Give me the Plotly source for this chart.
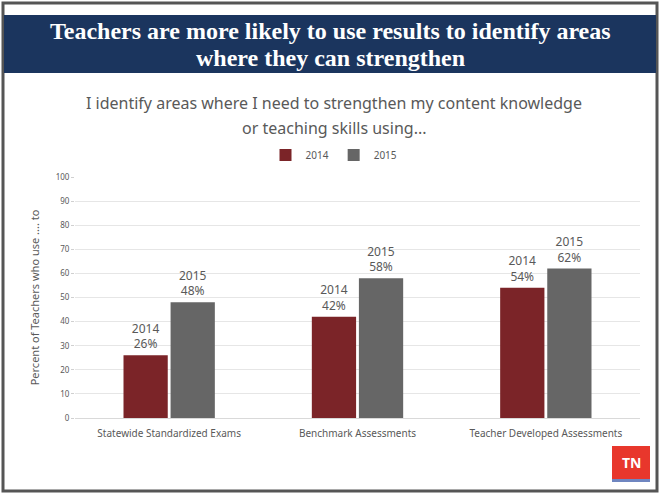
import plotly.graph_objects as go

categories = ["Statewide Standardized Exams", "Benchmark Assessments", "Teacher Developed Assessments"]
years = ["2014", "2015"]
values_2014 = [26, 42, 54]
values_2015 = [48, 58, 62]
y_ticks = list(range(0, 101, 10))

COLORS = {"2014": "#7b2428", "2015": "#666666"}
GRAY = "#595959"

# plot area in pixels: x 75..640, y 177..418
L, R, T, B = 75, 640, 177, 418
W, H = 661, 495


def px(x):
    return (x - L) / (R - L)


def py(y):
    return (B - y) / (B - T)


fig = go.Figure()
for year, vals in zip(years, [values_2014, values_2015]):
    fig.add_trace(go.Bar(
        x=categories, y=vals, name=year,
        marker=dict(color=COLORS[year], line=dict(width=0)),
        text=[f"{year}<br>{v}%" for v in vals],
        textposition="outside",
        textfont=dict(size=12, color=GRAY, family="Noto Sans"),
        constraintext="none",
        cliponaxis=False,
    ))

shapes = [
    # outer frame
    dict(type="rect", xref="paper", yref="paper", x0=px(3), x1=px(657), y0=py(3), y1=py(491),
         line=dict(color="#555555", width=3), fillcolor="rgba(0,0,0,0)", layer="below"),
    # title band
    dict(type="rect", xref="paper", yref="paper", x0=px(4), x1=px(656), y0=py(15), y1=py(73),
         line=dict(width=0), fillcolor="#1b355e", layer="below"),
    # TN logo
    dict(type="rect", xref="paper", yref="paper", x0=px(612), x1=px(650), y0=py(446), y1=py(479),
         line=dict(width=0), fillcolor="#e8372c"),
    dict(type="rect", xref="paper", yref="paper", x0=px(612), x1=px(650), y0=py(479), y1=py(482),
         line=dict(width=0), fillcolor="#6f86c0"),
]

title_font = dict(family="Liberation Serif", size=24, color="white", weight="bold")
sub_font = dict(family="Noto Sans", size=16, color=GRAY)

annotations = [
    dict(text="Teachers are more likely to use results to identify areas",
         xref="paper", yref="paper", x=px(330), y=py(31), xanchor="center", yanchor="middle",
         showarrow=False, font=title_font),
    dict(text="where they can strengthen",
         xref="paper", yref="paper", x=px(330), y=py(58), xanchor="center", yanchor="middle",
         showarrow=False, font=title_font),
    dict(text="I identify areas where I need to strengthen my content knowledge",
         xref="paper", yref="paper", x=px(334), y=py(103), xanchor="center", yanchor="middle",
         showarrow=False, font=sub_font),
    dict(text="or teaching skills using...",
         xref="paper", yref="paper", x=px(334), y=py(128), xanchor="center", yanchor="middle",
         showarrow=False, font=sub_font),
    dict(text="TN", xref="paper", yref="paper", x=px(631), y=py(462), xanchor="center", yanchor="middle",
         showarrow=False, font=dict(family="Noto Sans", size=14, color="white", weight="bold")),
]

fig.update_layout(
    width=W, height=H,
    margin=dict(l=L, r=W - R, t=T, b=H - B, pad=0),
    paper_bgcolor="white", plot_bgcolor="white",
    barmode="group", bargap=0.5, bargroupgap=0.06,
    font=dict(family="Noto Sans", color=GRAY),
    showlegend=True,
    legend=dict(orientation="h", x=px(334), y=py(155), xanchor="center", yanchor="middle",
                font=dict(size=10, color=GRAY), itemwidth=30, traceorder="normal"),
    xaxis=dict(tickfont=dict(size=10, color=GRAY), showline=True, linecolor="#d9d9d9",
               ticks="", showgrid=False, ticklabelstandoff=6),
    yaxis=dict(range=[0, 100], tickvals=y_ticks, tickfont=dict(size=8, color=GRAY),
               showgrid=True, gridcolor="#e6e6e6", zeroline=False, showline=False,
               ticks="outside", ticklen=3, tickcolor="#d0d0d0",
               title=dict(text="Percent of Teachers who use .... to", font=dict(size=11, color=GRAY),
                          standoff=13)),
    shapes=shapes,
    annotations=annotations,
)

fig.write_html("out.html", config={"displayModeBar": False},
               post_script="document.body.style.margin='0';")
